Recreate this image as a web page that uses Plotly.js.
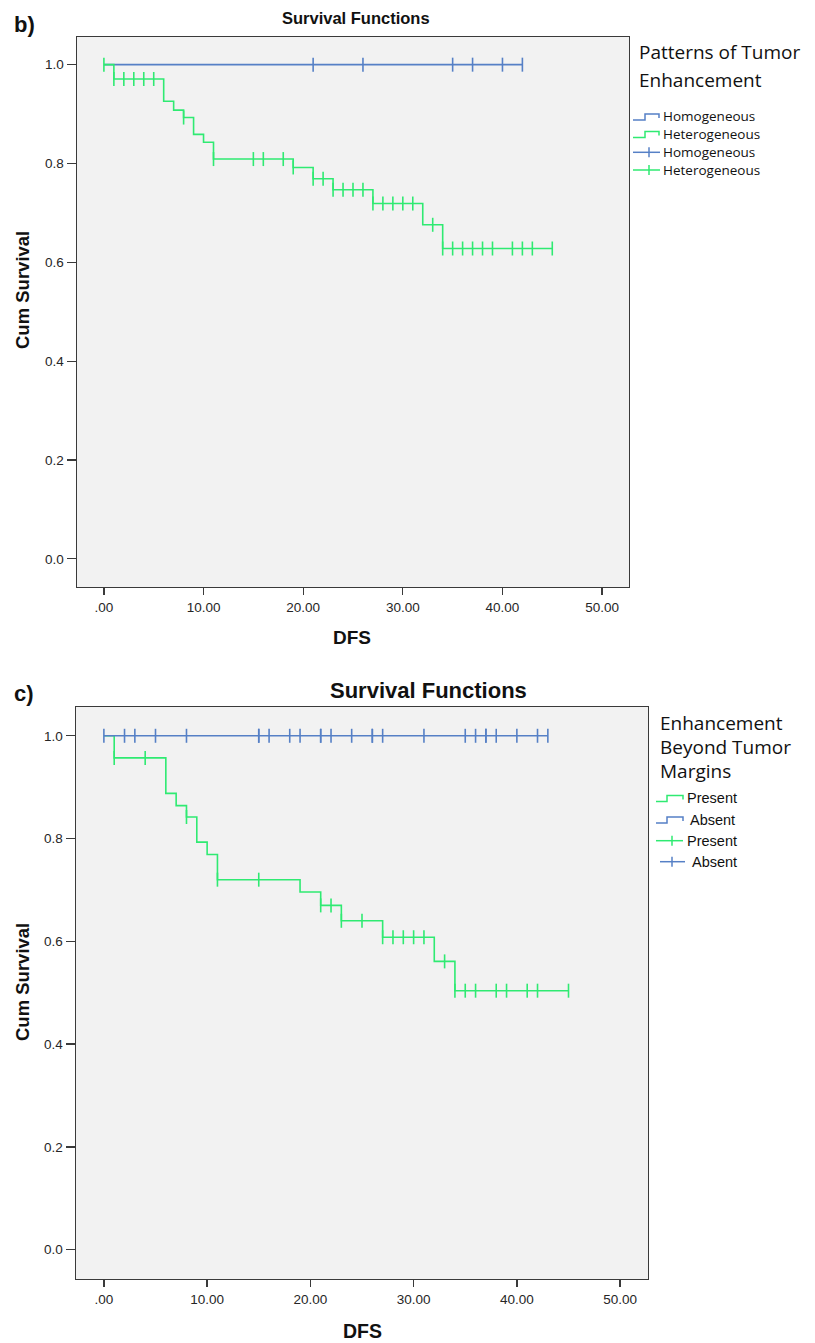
<!DOCTYPE html>
<html>
<head>
<meta charset="utf-8">
<script src="https://cdn.plot.ly/plotly-3.0.1.min.js"></script>
<style>html,body{margin:0;padding:0;background:#fff;}#chart{width:815px;height:1343px;}</style>
</head>
<body>
<div id="chart"></div>
<script>
// ---------- DATA ----------
// Panel b: Patterns of Tumor Enhancement
const bHomoLineT = [0, 42];
const bHomoLineS = [1.0, 1.0];
const bHomoCensT = [21, 26, 35, 37, 40, 42];

const bHeteroT = [0, 1, 6, 7, 8, 9, 10, 11, 19, 21, 23, 27, 32, 34, 45];
const bHeteroS = [1.0, 0.971, 0.926, 0.908, 0.893, 0.859, 0.843, 0.809, 0.792, 0.769, 0.747, 0.719, 0.676, 0.628, 0.628];
const bHeteroCensT = [0, 1, 2, 3, 4, 5, 8, 11, 15, 16, 18, 19, 21, 22, 23, 24, 25, 26, 27, 28, 29, 30, 31, 33, 34, 35, 36, 37, 38, 39, 41, 42, 43, 45];

// Panel c: Enhancement Beyond Tumor Margins
const cPresentT = [0, 1, 6, 7, 8, 9, 10, 11, 19, 21, 23, 27, 32, 34, 45];
const cPresentS = [1.0, 0.957, 0.888, 0.864, 0.842, 0.793, 0.769, 0.720, 0.696, 0.670, 0.640, 0.608, 0.561, 0.504, 0.504];
const cPresentCensT = [1, 4, 8, 11, 15, 21, 22, 23, 25, 27, 28, 29, 30, 31, 33, 34, 35, 36, 38, 39, 41, 42, 45];

const cAbsentLineT = [0, 43];
const cAbsentLineS = [1.0, 1.0];
const cAbsentCensT = [0, 2, 3, 5, 8, 15, 15, 16, 18, 19, 21, 21, 22, 24, 26, 26, 27, 31, 35, 36, 37, 37, 38, 40, 42, 43];

const xTickVals = [0, 10, 20, 30, 40, 50];
const xTickText = ['.00', '10.00', '20.00', '30.00', '40.00', '50.00'];
const yTickVals = [0, 0.2, 0.4, 0.6, 0.8, 1.0];
const yTickText = ['0.0', '0.2', '0.4', '0.6', '0.8', '1.0'];

// ---------- HELPERS ----------
const W = 815, H = 1343;
const px = x => x / W;
const py = y => 1 - y / H;
function survAt(T, S, t) {
  let v = S[0];
  for (let i = 0; i < T.length; i++) { if (T[i] <= t) v = S[i]; }
  return v;
}
const BLUE = '#5680c6';
const GREEN = '#2fea72';
const AX = '#3a3a3a';

function lineTrace(T, S, color, xa, ya) {
  return {x: T, y: S, xaxis: xa, yaxis: ya, mode: 'lines', type: 'scatter',
    line: {shape: 'hv', color: color, width: 1.6}, hoverinfo: 'skip', showlegend: false};
}
function censTrace(CT, T, S, color, xa, ya) {
  return {x: CT, y: CT.map(t => survAt(T, S, t)), xaxis: xa, yaxis: ya, mode: 'markers', type: 'scatter',
    marker: {symbol: 'line-ns-open', size: 10, color: color, line: {color: color, width: 1.6}}, hoverinfo: 'skip', showlegend: false};
}

const data = [
  lineTrace(bHomoLineT, bHomoLineS, BLUE, 'x', 'y'),
  lineTrace(bHeteroT, bHeteroS, GREEN, 'x', 'y'),
  censTrace(bHomoCensT, bHomoLineT, bHomoLineS, BLUE, 'x', 'y'),
  censTrace(bHeteroCensT, bHeteroT, bHeteroS, GREEN, 'x', 'y'),
  lineTrace(cPresentT, cPresentS, GREEN, 'x2', 'y2'),
  lineTrace(cAbsentLineT, cAbsentLineS, BLUE, 'x2', 'y2'),
  censTrace(cPresentCensT, cPresentT, cPresentS, GREEN, 'x2', 'y2'),
  censTrace(cAbsentCensT, cAbsentLineT, cAbsentLineS, BLUE, 'x2', 'y2')
];

const tickFont = {family: 'Liberation Sans, Arial, sans-serif', size: 13.5, color: '#262626'};
function xAxis(domain, anchor) {
  return {domain: domain, anchor: anchor, range: [-2.7, 52.7], tickvals: xTickVals, ticktext: xTickText,
    ticks: 'outside', ticklen: 7, tickwidth: 1.3, tickcolor: AX, showline: true, linecolor: AX, linewidth: 1.4,
    mirror: true, showgrid: false, zeroline: false, tickfont: tickFont, fixedrange: true};
}
function yAxis(domain, anchor) {
  return {domain: domain, anchor: anchor, range: [-0.057, 1.056], tickvals: yTickVals, ticktext: yTickText,
    ticks: 'outside', ticklen: 9, tickwidth: 1.3, tickcolor: AX, showline: true, linecolor: AX, linewidth: 1.4,
    mirror: true, showgrid: false, zeroline: false, tickfont: tickFont, fixedrange: true};
}

const boldF = s => ({family: 'Liberation Sans, Arial, sans-serif', size: s, color: '#111'});
const legTitleF = {family: 'Open Sans, sans-serif', size: 19, color: '#111'};
const legItemF = {family: 'Open Sans, sans-serif', size: 13.5, color: '#111'};
const legItemF2 = {family: 'Liberation Sans, Arial, sans-serif', size: 14.5, color: '#111'};

function ann(text, x, y, font, xanchor, extra) {
  return Object.assign({text: text, x: px(x), y: py(y), xref: 'paper', yref: 'paper', showarrow: false,
    xanchor: xanchor || 'left', yanchor: 'middle', font: font}, extra || {});
}

const annotations = [
  ann('<b>b)</b>', 12, 25, boldF(22)),
  ann('<b>c)</b>', 12, 693, boldF(22)),
  ann('<b>Survival Functions</b>', 356, 18, boldF(16.5), 'center'),
  ann('<b>Survival Functions</b>', 429, 690, boldF(22), 'center'),
  ann('<b>DFS</b>', 352, 637, boldF(19), 'center'),
  ann('<b>DFS</b>', 362, 1331, boldF(19.5), 'center'),
  ann('<b>Cum Survival</b>', 22, 290, boldF(18.5), 'center', {textangle: -90}),
  ann('<b>Cum Survival</b>', 22, 982, boldF(18.5), 'center', {textangle: -90}),
  // legend b
  ann('Patterns of Tumor', 637, 52, legTitleF),
  ann('Enhancement', 637, 80, legTitleF),
  ann('Homogeneous', 661, 116.5, legItemF),
  ann('Heterogeneous', 661, 134, legItemF),
  ann('Homogeneous', 661, 152, legItemF),
  ann('Heterogeneous', 661, 170, legItemF),
  // legend c
  ann('Enhancement', 658, 723, legTitleF),
  ann('Beyond Tumor', 658, 747, legTitleF),
  ann('Margins', 658, 771, legTitleF),
  ann('Present', 685, 798, legItemF2),
  ann('Absent', 688, 820, legItemF2),
  ann('Present', 685, 841, legItemF2),
  ann('Absent', 690, 862, legItemF2)
];

function stepIcon(x0, xm, x1, yc, color) {
  const yb = yc + 3, yt = yc - 3;
  return {type: 'path', xref: 'paper', yref: 'paper',
    path: `M ${px(x0)} ${py(yb)} L ${px(xm)} ${py(yb)} L ${px(xm)} ${py(yt)} L ${px(x1)} ${py(yt)} L ${px(x1)} ${py(yc + 1)}`,
    line: {color: color, width: 1.5}};
}
function crossIcon(x0, xm, x1, yc, color) {
  return [
    {type: 'line', xref: 'paper', yref: 'paper', x0: px(x0), x1: px(x1), y0: py(yc), y1: py(yc), line: {color: color, width: 1.5}},
    {type: 'line', xref: 'paper', yref: 'paper', x0: px(xm), x1: px(xm), y0: py(yc - 5), y1: py(yc + 5), line: {color: color, width: 1.5}}
  ];
}

const shapes = [
  stepIcon(633, 645, 659, 117, BLUE),
  stepIcon(633, 645, 659, 134.5, GREEN),
  ...crossIcon(633, 649, 660, 152.3, BLUE),
  ...crossIcon(633, 649, 660, 170, GREEN),
  stepIcon(656, 667, 683, 798.5, GREEN),
  stepIcon(656, 667, 683, 820, BLUE),
  ...crossIcon(656, 672, 683, 840.7, GREEN),
  ...crossIcon(660, 672, 685, 861.7, BLUE)
];

const layout = {
  width: W, height: H,
  margin: {l: 0, r: 0, t: 0, b: 0},
  paper_bgcolor: '#ffffff',
  plot_bgcolor: '#f2f2f2',
  showlegend: false,
  xaxis: xAxis([px(77), px(629)], 'y'),
  yaxis: yAxis([py(587), py(37)], 'x'),
  xaxis2: xAxis([px(76), px(648)], 'y2'),
  yaxis2: yAxis([py(1279), py(707)], 'x2'),
  annotations: annotations,
  shapes: shapes
};

Plotly.newPlot('chart', data, layout, {displayModeBar: false, staticPlot: true});
</script>
</body>
</html>
